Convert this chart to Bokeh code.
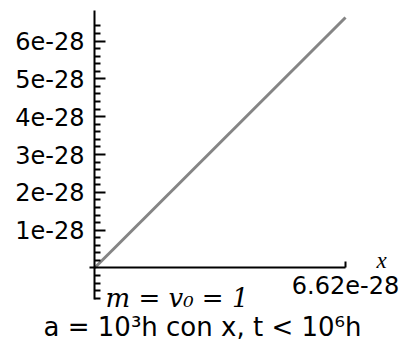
from bokeh.plotting import figure
from bokeh.models import LinearAxis, FixedTicker, Label
from bokeh.embed import file_html
from bokeh.resources import INLINE

# Straight line from the origin to (h, h) with h = 6.62e-28
line_x = [0.0, 6.62e-28]
line_y = [0.0, 6.62e-28]

# Axis ticks and their labels
yticks = [1e-28, 2e-28, 3e-28, 4e-28, 5e-28, 6e-28]
ytick_labels = ["1e-28", "2e-28", "3e-28", "4e-28", "5e-28", "6e-28"]
yminor = [v * 1e-28 for v in
          [-0.8, -0.6, -0.4, -0.2, 0.2, 0.4, 0.6, 0.8,
           1.2, 1.4, 1.6, 1.8, 2.2, 2.4, 2.6, 2.8,
           3.2, 3.4, 3.6, 3.8, 4.2, 4.4, 4.6, 4.8,
           5.2, 5.4, 5.6, 5.8, 6.2, 6.4]]
xticks = [6.62e-28]
xtick_labels = ["6.62e-28"]

# the plotting area fills the whole canvas; axes are drawn at x = 0 and y = 0
x_start, x_end = -2.479e-28, 8.202e-28
y_start, y_end = -2.1015e-28, 7.071e-28

p = figure(width=405, height=347,
           x_range=(x_start, x_end), y_range=(y_start, y_end),
           x_axis_type=None, y_axis_type=None,
           toolbar_location=None, output_backend="svg",
           min_border=0)
p.outline_line_color = None
p.background_fill_color = "white"
p.border_fill_color = "white"

p.line(line_x, line_y, line_color="#858585", line_width=3)

# vertical axis crossing at x = 0
yaxis = LinearAxis(fixed_location=0,
                   ticker=FixedTicker(ticks=yticks, minor_ticks=yminor),
                   major_label_overrides=dict(zip(yticks, ytick_labels)),
                   bounds=(-0.833e-28, 6.807e-28))
yaxis.axis_line_width = 2
yaxis.major_tick_in = 11
yaxis.major_tick_out = 0
yaxis.minor_tick_in = 6
yaxis.minor_tick_out = 0
yaxis.major_tick_line_width = 2
yaxis.minor_tick_line_width = 2
yaxis.major_label_standoff = 10
yaxis.major_label_text_font = "DejaVu Sans"
yaxis.major_label_text_font_size = "24px"
yaxis.major_label_text_color = "black"
p.add_layout(yaxis, "left")

# horizontal axis crossing at y = 0
xaxis = LinearAxis(fixed_location=0,
                   ticker=FixedTicker(ticks=xticks, minor_ticks=[]),
                   major_label_overrides=dict(zip(xticks, xtick_labels)),
                   bounds=(-0.132e-28, xticks[-1]))
xaxis.axis_line_width = 2
xaxis.major_tick_in = 6
xaxis.major_tick_out = 0
xaxis.major_tick_line_width = 2
xaxis.minor_tick_line_color = None
xaxis.major_label_standoff = 8
xaxis.major_label_text_font = "DejaVu Sans"
xaxis.major_label_text_font_size = "24px"
xaxis.major_label_text_color = "black"
p.add_layout(xaxis, "below")

# axis name next to the end of the x axis
p.add_layout(Label(x=xticks[-1], y=0, x_offset=36, y_offset=7,
                   text="x", text_font="Liberation Serif",
                   text_font_style="italic", text_font_size="23px",
                   text_align="center", text_baseline="middle",
                   text_color="black"))

# parameter note under the x axis
p.add_layout(Label(x=0, y=0, x_offset=11, y_offset=-30,
                   text="m = v\u2080 = 1", text_font="DejaVu Serif",
                   text_font_style="italic", text_font_size="26px",
                   text_align="left", text_baseline="alphabetic",
                   text_color="black"))

# caption below the chart
p.add_layout(Label(x=202, y=21, x_units="screen", y_units="screen",
                   text="a = 10\u00b3h con x, t < 10\u2076h",
                   text_font="DejaVu Sans", text_font_size="26px",
                   text_align="center", text_baseline="middle",
                   text_color="black"))

open("out.html", "w").write(file_html(p, INLINE))
